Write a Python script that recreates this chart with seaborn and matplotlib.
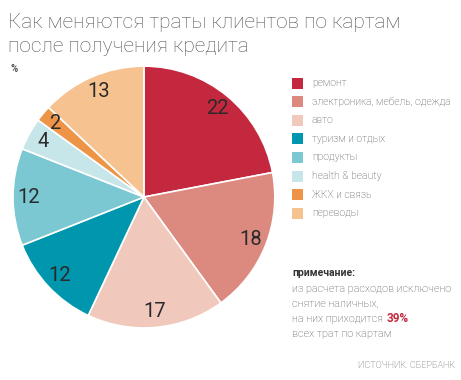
import matplotlib
matplotlib.use("Agg")
import matplotlib.pyplot as plt
import matplotlib.patches as mpatches
import seaborn as sns

sns.set_style("white")
plt.rcParams['font.family'] = ['Roboto', 'DejaVu Sans']

# data
categories = ['ремонт', 'электроника, мебель, одежда', 'авто', 'туризм и отдых',
              'продукты', 'health & beauty', 'ЖКХ и связь', 'переводы']
shares = [22, 18, 17, 12, 12, 4, 2, 13]
colors = ['#C4283F', '#DC8A80', '#F0C9BC', '#0097AE',
          '#7CC8D2', '#C7E6EA', '#EE9447', '#F6C390']

fig = plt.figure(figsize=(4.61, 3.80), dpi=100)

ax = fig.add_axes([0.0282, 0.137, 0.568, 0.689])
wedges, texts, autotexts = ax.pie(
    shares, colors=colors, startangle=90, counterclock=False,
    autopct=lambda p: f'{p:.0f}', pctdistance=0.88,
    wedgeprops=dict(edgecolor='white', linewidth=1.2),
    textprops=dict(fontsize=14.5, color='#2a2a2a'))
ax.set_xlim(-1, 1)
ax.set_ylim(-1, 1)
ax.set_aspect('equal')

# title
fig.text(0.017, 0.965, 'Как меняются траты клиентов по картам\nпосле получения кредита',
         fontsize=15, fontweight='light', color='#555555', va='top', ha='left',
         linespacing=1.32)
fig.text(0.022, 0.818, '%', fontsize=7, fontweight='bold', color='#555555', va='center')

# legend
y0 = 380 - 83
for i, (cat, col) in enumerate(zip(categories, colors)):
    y = (y0 - i * 18.6) / 380
    fig.patches.append(mpatches.Rectangle((292 / 461, y - 5.5 / 380), 11 / 461, 11 / 380,
                                          transform=fig.transFigure, facecolor=col,
                                          edgecolor='none'))
    fig.text(312 / 461, y, cat, fontsize=7.5, fontweight='light', color='#4a4a4a',
             va='center', ha='left')

# note
fig.text(292 / 461, (380 - 273) / 380, 'примечание:', fontsize=7.5, fontweight='bold',
         color='#333333', va='center')
note_lines = ['из расчета расходов исключено', 'снятие наличных,',
              'на них приходится', 'всех трат по картам']
for i, line in enumerate(note_lines):
    fig.text(292 / 461, (380 - 289 - i * 15) / 380, line, fontsize=7.8,
             fontweight='light', color='#4a4a4a', va='center')
fig.canvas.draw()
bb = fig.texts[-2].get_window_extent()
fig.text((bb.x1 + 4) / 461, (380 - 289 - 2 * 15) / 380, '39%', fontsize=8.5,
         fontweight='bold', color='#C4283F', va='center')

fig.text(455 / 461, (380 - 366) / 380, 'ИСТОЧНИК: СБЕРБАНК', fontsize=6.5,
         fontweight='light', color='#4a4a4a', va='center', ha='right')

fig.savefig('out.png', dpi=100)
